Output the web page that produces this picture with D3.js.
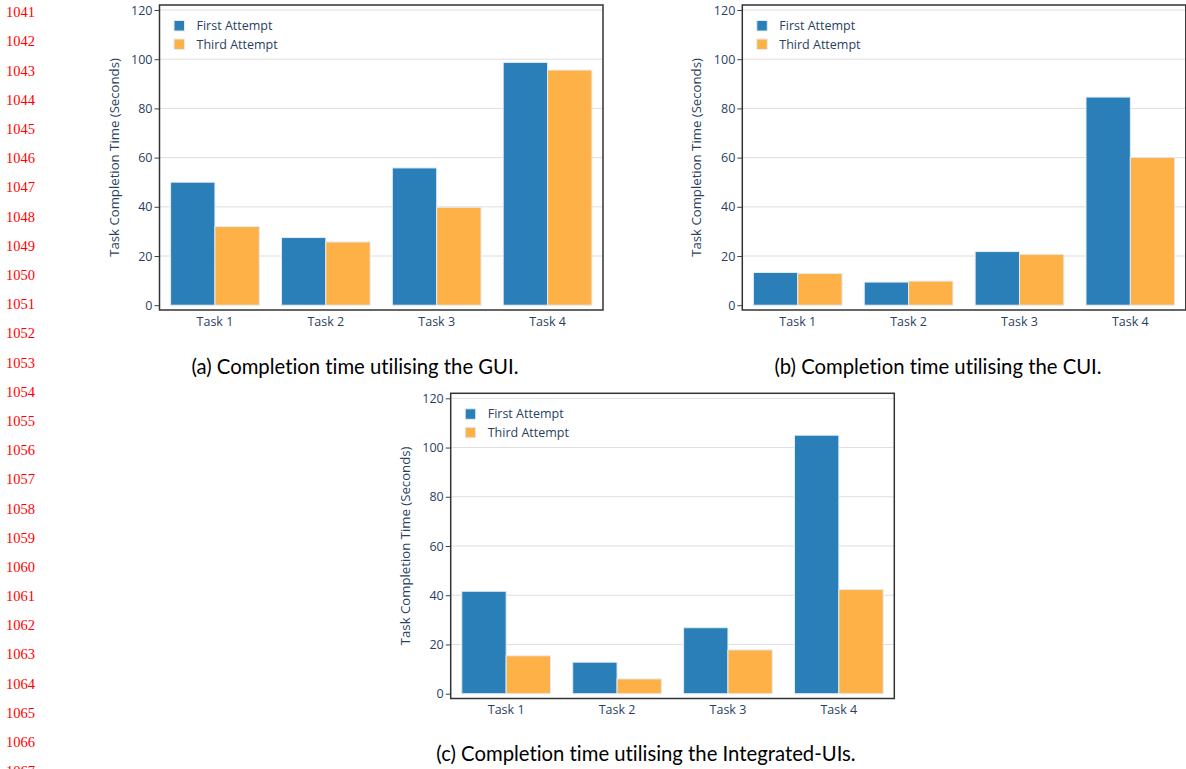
<!DOCTYPE html>
<html>
<head>
<meta charset="utf-8">
<script src="https://cdn.jsdelivr.net/npm/d3@7"></script>
<style>
  html, body { margin: 0; padding: 0; background: #fff; }
  svg { display: block; }
</style>
</head>
<body>
<svg id="page" width="1186" height="769"></svg>
<script>
const tasks = ['Task 1', 'Task 2', 'Task 3', 'Task 4'];
const seriesNames = ['First Attempt', 'Third Attempt'];
const yTicks = [0, 20, 40, 60, 80, 100, 120];

// seconds
const guiFirst = [50, 27.5, 55.8, 98.7];
const guiThird = [32, 25.7, 39.8, 95.6];
const cuiFirst = [13.3, 9.4, 21.8, 84.6];
const cuiThird = [12.9, 9.8, 20.7, 60.1];
const intFirst = [41.6, 12.8, 26.8, 105.0];
const intThird = [15.4, 6.0, 17.8, 42.3];

const captions = [
  '(a) Completion time utilising the GUI.',
  '(b) Completion time utilising the CUI.',
  '(c) Completion time utilising the Integrated-UIs.'
];
const lineNumbers = d3.range(1041, 1068);

const colors = ['#2a7fb9', '#fdb147'];
const tickColor = '#2a3f5f';
const tickFont = '"Open Sans", "Noto Sans", sans-serif';

const svg = d3.select('#page');

// red line numbers down the left margin
svg.append('g')
  .selectAll('text')
  .data(lineNumbers)
  .join('text')
  .attr('x', 6)
  .attr('y', (d, i) => 17.3 + i * 29.19)
  .attr('fill', '#ff0000')
  .attr('font-family', '"Liberation Serif", "DejaVu Serif", serif')
  .attr('font-size', 14.5)
  .text(d => d);

function drawChart(box, first, third, caption) {
  const w = box.right - box.left;
  const h = box.bottom - box.top;
  const g = svg.append('g').attr('transform', `translate(${box.left},${box.top})`);

  const x = d3.scaleBand().domain(tasks).range([0, w]).paddingInner(0.2).paddingOuter(0.1);
  const xs = d3.scaleBand().domain(seriesNames).range([0, x.bandwidth()]);
  const y = d3.scaleLinear().domain([0, 120]).range([h - 4.8, 5]);

  // gridlines
  g.append('g')
    .selectAll('line')
    .data(yTicks.filter(t => t > 0))
    .join('line')
    .attr('x1', 0).attr('x2', w)
    .attr('y1', d => y(d)).attr('y2', d => y(d))
    .attr('stroke', '#dedede')
    .attr('stroke-width', 1);

  const rows = tasks.map((t, i) => ({ task: t, values: [first[i], third[i]] }));

  g.append('g')
    .selectAll('g')
    .data(rows)
    .join('g')
    .attr('transform', d => `translate(${x(d.task)},0)`)
    .selectAll('rect')
    .data(d => d.values.map((v, k) => ({ name: seriesNames[k], value: v, k })))
    .join('rect')
    .attr('x', d => xs(d.name))
    .attr('width', xs.bandwidth())
    .attr('y', d => y(d.value))
    .attr('height', d => y(0) - y(d.value))
    .attr('fill', d => colors[d.k])
    .attr('stroke', '#e4ebf3')
    .attr('stroke-width', 1);

  // y axis
  const yAxis = g.append('g')
    .call(d3.axisLeft(y).tickValues(yTicks).tickSize(5).tickPadding(2));
  yAxis.select('.domain').remove();
  yAxis.selectAll('line').attr('stroke', '#444');
  yAxis.selectAll('text')
    .attr('fill', tickColor)
    .attr('font-family', tickFont)
    .attr('font-size', 12.5);

  // x axis labels
  const xAxis = g.append('g')
    .attr('transform', `translate(0,${h})`)
    .call(d3.axisBottom(x).tickSize(0).tickPadding(7));
  xAxis.select('.domain').remove();
  xAxis.selectAll('text')
    .attr('fill', tickColor)
    .attr('font-family', tickFont)
    .attr('font-size', 12.5);

  // frame
  g.append('rect')
    .attr('width', w).attr('height', h)
    .attr('fill', 'none')
    .attr('stroke', '#333')
    .attr('stroke-width', 1.5);

  // y title
  g.append('text')
    .attr('transform', `translate(${-41},${h / 2}) rotate(-90)`)
    .attr('text-anchor', 'middle')
    .attr('fill', tickColor)
    .attr('font-family', tickFont)
    .attr('font-size', 13.2)
    .text('Task Completion Time (Seconds)');

  // legend
  const legend = g.append('g').attr('transform', 'translate(14.5,15.5)');
  const item = legend.selectAll('g')
    .data(seriesNames)
    .join('g')
    .attr('transform', (d, i) => `translate(0,${i * 18.5})`);
  item.append('rect')
    .attr('width', 10.5).attr('height', 10.5)
    .attr('fill', (d, i) => colors[i])
    .attr('stroke', '#e4ebf3')
    .attr('stroke-width', 1);
  item.append('text')
    .attr('x', 22.5)
    .attr('y', 9.5)
    .attr('fill', tickColor)
    .attr('font-family', tickFont)
    .attr('font-size', 12.5)
    .text(d => d);

  // caption
  svg.append('text')
    .attr('x', box.capX)
    .attr('y', box.capY)
    .attr('text-anchor', 'middle')
    .attr('fill', '#000')
    .attr('font-family', 'Lato, "Noto Sans", sans-serif')
    .attr('font-size', 20.3)
    .style('font-variant-ligatures', 'none')
    .text(caption);
}

drawChart({ left: 159.5, top: 5, right: 603, bottom: 310, capX: 355, capY: 373.5 }, guiFirst, guiThird, captions[0]);
drawChart({ left: 742.3, top: 5, right: 1185.8, bottom: 310, capX: 938, capY: 373.5 }, cuiFirst, cuiThird, captions[1]);
drawChart({ left: 450.7, top: 393.3, right: 894.3, bottom: 698.5, capX: 646, capY: 760.5 }, intFirst, intThird, captions[2]);
</script>
</body>
</html>
